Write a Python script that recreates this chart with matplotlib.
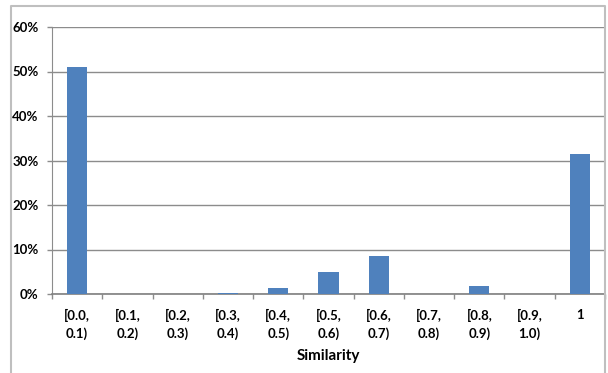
import numpy as np
import matplotlib
matplotlib.use('Agg')
import matplotlib.pyplot as plt
from matplotlib.lines import Line2D

plt.rcParams['font.family'] = ['Lato', 'DejaVu Sans']

bins = ['[0.0,\n0.1)', '[0.1,\n0.2)', '[0.2,\n0.3)', '[0.3,\n0.4)', '[0.4,\n0.5)',
        '[0.5,\n0.6)', '[0.6,\n0.7)', '[0.7,\n0.8)', '[0.8,\n0.9)', '[0.9,\n1.0)', '1']
share = [51.0, 0.0, 0.0, 0.3, 1.4, 5.0, 8.6, 0.0, 1.8, 0.0, 31.4]

fig = plt.figure(figsize=(6.08, 3.73), dpi=100)
ax = fig.add_axes([52/608, 79/373, 553/608, 267/373])

x = np.arange(len(bins))
ax.bar(x, share, width=0.4, color='#4f81bd', zorder=3)

ax.set_xlim(-0.5, len(bins) - 0.5)
ax.set_ylim(0, 60)
ax.set_yticks(np.arange(0, 61, 10))
ax.set_yticklabels(['%d%%' % v for v in range(0, 61, 10)],
                   fontsize=9.5, fontweight='bold')
ax.yaxis.grid(True, color='#8c8c8c', linewidth=1.0, zorder=0)

ax.set_xticks(x)
ax.set_xticklabels(bins, fontsize=9.5, fontweight='bold', linespacing=1.5)
ax.set_xticks(np.arange(-0.5, len(bins), 1.0), minor=True)
ax.tick_params(axis='x', which='major', length=0, pad=11)
ax.tick_params(axis='x', which='minor', length=3.6, color='#8c8c8c', width=1)
ax.tick_params(axis='y', length=3.6, color='#8c8c8c', width=1, pad=6)

ax.set_xlabel('Similarity', fontsize=11, fontweight='bold', labelpad=6)

for s in ['top', 'right']:
    ax.spines[s].set_visible(False)
ax.spines['left'].set_color('#8c8c8c')
ax.spines['bottom'].set_color('#7f7f7f')
ax.spines['bottom'].set_linewidth(1.2)

# outer chart frame
fx = [11/608, 11/608, 605/608, 605/608]
fy = [0, 1 - 6/373, 1 - 6/373, 0]
fig.add_artist(Line2D(fx, fy, transform=fig.transFigure, color='#bfbfbf', linewidth=1.5))

fig.savefig('out.png', dpi=100)
